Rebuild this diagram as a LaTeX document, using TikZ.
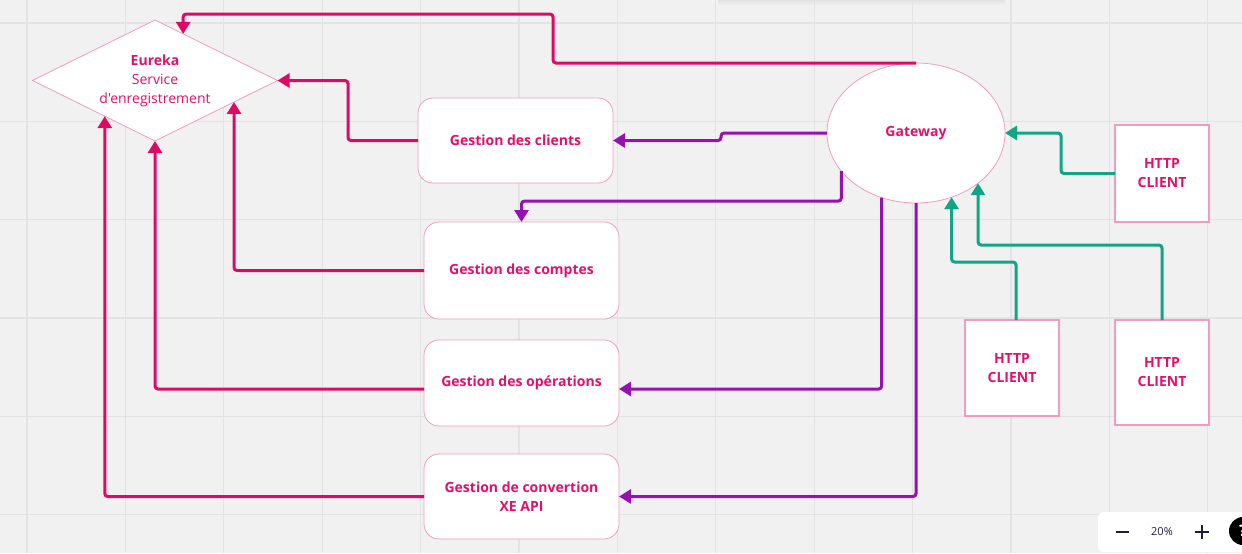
\documentclass[tikz,border=0pt]{standalone}
\usepackage{fontspec}
\setmainfont{Open Sans}[Ligatures=TeXOff]
\usetikzlibrary{shapes.geometric,arrows.meta,calc}
\definecolor{bg}{HTML}{F1F1F1}
\definecolor{gridc}{HTML}{E3E3E3}
\definecolor{pk}{HTML}{DC0A64}
\definecolor{pktext}{HTML}{E0116B}
\definecolor{pkborder}{HTML}{F09CC0}
\definecolor{pu}{HTML}{9512B0}
\definecolor{tl}{HTML}{10A585}
\definecolor{navy}{HTML}{1D1D3F}
\begin{document}
\begin{tikzpicture}[x=0.5pt,y=-0.5pt,
  box/.style={rectangle, rounded corners=7.5pt, draw=pkborder, line width=0.4pt, fill=white,
    text=pktext, font=\fontsize{7pt}{9.5pt}\selectfont\bfseries, align=center, inner sep=0pt, outer sep=0pt,
    minimum width=97.5pt},
  hbox/.style={rectangle, draw=pkborder, line width=0.7pt, fill=white,
    text=pktext, font=\fontsize{7pt}{9.5pt}\selectfont\bfseries, align=center, inner sep=0pt, outer sep=0pt,
    minimum width=47pt},
  conn/.style={line width=1.5pt, rounded corners=1.5pt, -{Triangle[length=6pt,width=7pt]}},
  pkl/.style={conn, draw=pk},
  pul/.style={conn, draw=pu},
  tll/.style={conn, draw=tl}]
\useasboundingbox (0,0) rectangle (1242,553);
\fill[bg] (0,0) rectangle (1242,553);
\shade[top color=gray!22, bottom color=bg] (718,0) rectangle (1005,5);
% grid
\foreach \k in {0,...,12} \draw[gridc, line width=0.6pt] ({27+98.4*\k},0) -- ({27+98.4*\k},553);
\foreach \k in {0,...,5} \draw[gridc, line width=0.6pt] (0,{23+98.3*\k}) -- (1242,{23+98.3*\k});

% nodes
\node[diamond, shape aspect=2.02, draw=pkborder, line width=0.4pt, fill=white, inner sep=0pt, outer sep=0pt,
  minimum width=122.5pt, minimum height=60.5pt, text=pktext, align=center,
  font=\fontsize{7pt}{9.5pt}\selectfont] (eu) at (155,80.5)
  {\textbf{Eureka}\\Service\\d'enregistrement};
\node[box, minimum height=42.5pt] (gc) at (515.5,140.5) {Gestion des clients};
\node[box, minimum height=48.5pt] (gco) at (521.5,270.5) {Gestion des comptes};
\node[box, minimum height=43pt] (gop) at (521.5,383) {Gestion des opérations};
\node[box, minimum height=42.5pt] (gxe) at (521.5,496.5) {Gestion de convertion\\XE API};
\node[ellipse, draw=pkborder, line width=0.4pt, fill=white, inner sep=0pt, outer sep=0pt,
  minimum width=89pt, minimum height=70pt, text=pktext,
  font=\fontsize{7pt}{9.5pt}\selectfont\bfseries] (gw) at (916,133) {Gateway};
\node[hbox, minimum height=48.5pt] (h1) at (1162,173.5) {HTTP\\CLIENT};
\node[hbox, minimum height=48pt] (h2) at (1012,368) {HTTP\\CLIENT};
\node[hbox, minimum height=52.5pt] (h3) at (1162,372.5) {HTTP\\CLIENT};

\coordinate (eu1) at ($(eu.north)!0.23!(eu.east)$);
\coordinate (eu2) at ($(eu.south)!0.645!(eu.east)$);
\coordinate (eu3) at ($(eu.south)!0.41!(eu.west)$);

% pink connectors to Eureka
\draw[pkl] (gw.north) -| (553,14) -| (eu1);
\draw[pkl] (gc.west) -- (348,140.5) |- (eu.east);
\draw[pkl] (gco.west) -| (eu2);
\draw[pkl] ($(gop.west)+(0,6)$) -| (eu.south);
\draw[pkl] (gxe.west) -| (eu3);

% purple connectors from Gateway
\draw[pul] (gw.west) -- (721,133) -- (721,140.5) -- (gc.east);
\draw[pul] (gw.207) -- ++(0,30) -| (gco.north);
\draw[pul] (gw.242) |- ($(gop.east)+(0,6)$);
\draw[pul] (gw.south) |- (gxe.east);

% teal connectors to Gateway
\draw[tll] (h1.west) -- (1061,173.5) |- (gw.east);
\draw[tll] ($(h2.north)+(4,0)$) -- (1016,262) -| (gw.299.4);
\draw[tll] (h3.north) -- (1162,245) -| (gw.321.9);

% zoom widget
\node[fill=white, rounded corners=3pt, minimum width=80pt, minimum height=20pt, inner sep=0pt] (zw) at (1178,532) {};
\node[font=\fontsize{5.5pt}{6pt}\selectfont, text=navy] (zp) at (1162,532) {20\%};
\node[circle, fill=black, minimum size=14pt, inner sep=0pt, text=white,
  font=\fontsize{8pt}{8pt}\selectfont\bfseries] (zq) at (1243,531) {?};
\coordinate (zm1) at (1116,532);
\coordinate (zm2) at (1129,532);
\draw[navy, line width=1pt] (zm1) -- (zm2);
\coordinate (zpa) at (1195,532);
\coordinate (zpb) at (1209,532);
\coordinate (zpc) at (1202,525);
\coordinate (zpd) at (1202,539);
\draw[navy, line width=1pt] (zpa) -- (zpb) (zpc) -- (zpd);
\end{tikzpicture}
\end{document}
